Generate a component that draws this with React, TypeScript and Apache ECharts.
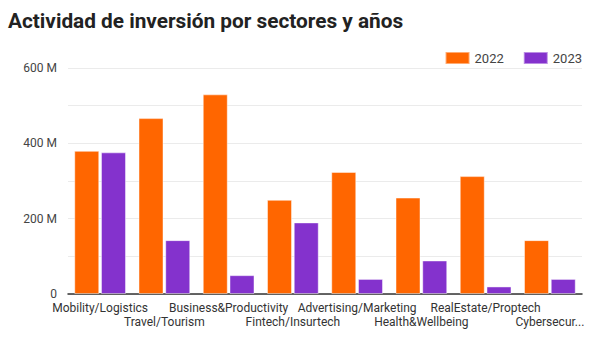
import React, { useEffect, useRef } from "react";
import * as echarts from "echarts";

const categories = [
  "Mobility/Logistics",
  "Travel/Tourism",
  "Business&Productivity",
  "Fintech/Insurtech",
  "Advertising/Marketing",
  "Health&Wellbeing",
  "RealEstate/Proptech",
  "Cybersecurity",
];
const values2022 = [380, 467, 530, 250, 324, 256, 313, 143];
const values2023 = [376, 143, 50, 190, 40, 89, 20, 40];
const yTicks = [0, 200, 400, 600];

export default function App() {
  const ref = useRef<HTMLDivElement>(null);
  useEffect(() => {
    if (!ref.current) return;
    const chart = echarts.init(ref.current, undefined, { renderer: "svg" });
    const font = "Roboto, 'Noto Sans', sans-serif";
    chart.setOption({
      animation: false,
      textStyle: { fontFamily: font },
      title: {
        text: "Actividad de inversión por sectores y años",
        left: 3,
        top: 5,
        textStyle: { fontSize: 20.8, fontWeight: "bold", color: "#222", fontFamily: font },
      },
      legend: {
        right: 15,
        top: 46,
        icon: "rect",
        itemWidth: 24,
        itemHeight: 12,
        itemGap: 19,
        textStyle: { fontSize: 13, color: "#444", fontFamily: font },
        data: ["2022", "2023"],
      },
      grid: { left: 68, right: 20, top: 68, bottom: 60 },
      xAxis: {
        type: "category",
        data: categories,
        axisTick: { show: false },
        axisLine: { lineStyle: { color: "#333", width: 1.5 } },
        axisLabel: {
          interval: 0,
          margin: 7,
          fontSize: 12,
          lineHeight: 14,
          color: "#333",
          fontFamily: font,
          formatter: (name: string, idx: number) => {
            let s = name;
            if (idx === categories.length - 1 && s.length > 10) s = s.slice(0, 10) + "...";
            return idx % 2 === 1 ? "\n" + s : s;
          },
        },
      },
      yAxis: {
        type: "value",
        min: 0,
        max: 600,
        interval: 100,
        axisLine: { show: false },
        axisTick: { show: false },
        splitLine: { lineStyle: { color: "#ebebeb", width: 1 } },
        axisLabel: {
          margin: 11,
          fontSize: 12,
          color: "#444",
          fontFamily: font,
          formatter: (v: number) =>
            yTicks.includes(v) ? (v === 0 ? "0" : v + " M") : "",
        },
      },
      series: [
        {
          name: "2022",
          type: "bar",
          data: values2022,
          barGap: "7%",
          barCategoryGap: "19.5%",
          itemStyle: { color: "#ff6600", borderColor: "rgba(255,255,255,0.45)", borderWidth: 1 },
        },
        {
          name: "2023",
          type: "bar",
          data: values2023,
          itemStyle: { color: "#8432cd", borderColor: "rgba(255,255,255,0.45)", borderWidth: 1 },
        },
      ],
    });
    return () => chart.dispose();
  }, []);
  return (
    <div
      ref={ref}
      style={{ position: "fixed", left: 0, top: 0, width: 602, height: 354, background: "#fff" }}
    />
  );
}
